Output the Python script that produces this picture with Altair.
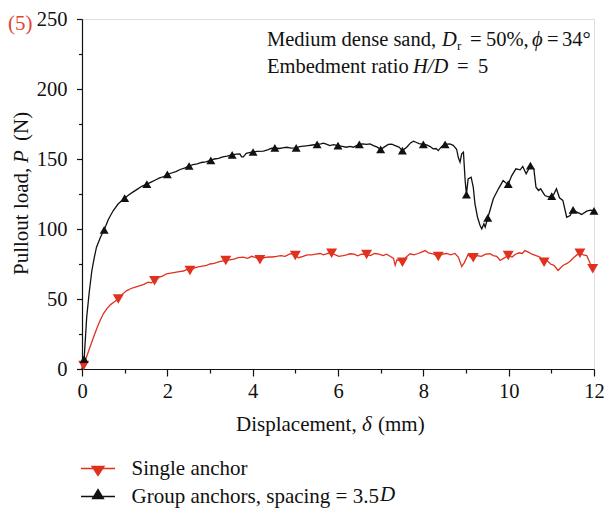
import altair as alt
import pandas as pd

# ---------------- data ----------------
single_x = [0.00, 0.04, 0.10, 0.18, 0.27, 0.36, 0.43, 0.50, 0.58, 0.67, 0.76, 0.85, 0.95, 1.05, 1.15,
            1.25, 1.36, 1.45, 1.55, 1.62, 1.70, 1.80, 1.90, 1.98, 2.08, 2.18, 2.28, 2.38, 2.45, 2.53,
            2.62, 2.72, 2.82, 2.92, 3.00, 3.10, 3.20, 3.28, 3.37, 3.46, 3.56, 3.66, 3.78, 3.88, 3.98,
            4.08, 4.17, 4.27, 4.37, 4.46, 4.56, 4.66, 4.76, 4.86, 4.94, 5.00, 5.08, 5.18, 5.28, 5.38,
            5.48, 5.58, 5.66, 5.76, 5.85, 5.94, 6.02, 6.12, 6.20, 6.28, 6.38, 6.46, 6.55, 6.67, 6.76,
            6.86, 6.96, 7.06, 7.14, 7.22, 7.30, 7.34, 7.38, 7.45, 7.51, 7.60, 7.69, 7.78, 7.88, 7.96,
            8.04, 8.12, 8.20, 8.28, 8.35, 8.45, 8.55, 8.64, 8.74, 8.82, 8.90, 8.96, 9.05, 9.10, 9.17,
            9.26, 9.36, 9.46, 9.56, 9.64, 9.72, 9.80, 9.88, 9.99, 10.08, 10.16, 10.25, 10.32, 10.38,
            10.46, 10.55, 10.64, 10.73, 10.83, 10.90, 10.98, 11.06, 11.16, 11.24, 11.30, 11.36, 11.44,
            11.52, 11.60, 11.67, 11.75, 11.83, 11.90, 11.97]
single_p = [0, 2.5, 8, 15, 22.7, 30, 35, 39.4, 43, 46, 48, 50, 53.5, 56, 57.5,
            58.5, 59.6, 60.5, 62, 61.5, 63, 65.5, 66.5, 68, 68.5, 69, 69.5, 70, 71, 70.4,
            72, 73, 73.5, 74, 75, 75.5, 76.5, 77, 77.5, 78, 78.5, 79.5, 79.9, 79, 80.5,
            79.5, 78, 79.5, 80, 80, 80.4, 81, 80.5, 82, 82.5, 81, 79.5, 80.5, 81.5, 81.5,
            82, 82.5, 81.5, 82.5, 82.7, 81.5, 80.5, 81, 81.5, 82.3, 82, 80.8, 82, 81.8, 81,
            82.5, 82, 81, 82, 80.5, 79, 74, 78, 77.5, 76.3, 80, 82.3, 81.5, 82.5, 83.5,
            84.6, 83, 82.5, 81.5, 80.4, 82, 82.5, 81.5, 82.5, 80, 73.2, 76, 81.8, 80, 79.4,
            81, 80.5, 82, 82.3, 81, 80.5, 77.5, 79, 81, 80, 82, 83, 82.5, 84.6,
            83.5, 82, 81, 80, 76.3, 77.5, 75, 74, 70.4, 73, 74.5, 75.2, 77,
            79.5, 81.5, 82.7, 81.5, 81, 76, 71.6]
single_mark_x = [0.04, 0.85, 1.70, 2.53, 3.37, 4.17, 5.00, 5.85, 6.67, 7.51, 8.35, 9.17, 9.99, 10.83, 11.67, 11.97]
single_mark_p = [2.5, 50, 63, 70.4, 77.5, 78, 81, 82.7, 81.8, 76.3, 80.4, 79.4, 81, 76.3, 82.7, 71.6]

group_x = [0.00, 0.05, 0.11, 0.17, 0.23, 0.29, 0.34, 0.43, 0.52, 0.62, 0.73, 0.85, 1.00, 1.10, 1.20,
           1.30, 1.40, 1.52, 1.62, 1.72, 1.82, 1.92, 2.00, 2.10, 2.20, 2.30, 2.40, 2.51, 2.60, 2.70,
           2.80, 2.90, 3.02, 3.10, 3.20, 3.30, 3.40, 3.52, 3.62, 3.70, 3.74, 3.78, 3.85, 3.92, 4.01,
           4.10, 4.25, 4.35, 4.43, 4.52, 4.62, 4.70, 4.80, 4.90, 5.02, 5.10, 5.20, 5.30, 5.40, 5.51,
           5.60, 5.66, 5.74, 5.81, 5.90, 6.00, 6.10, 6.20, 6.28, 6.36, 6.43, 6.50, 6.58, 6.67, 6.75,
           6.83, 6.92, 7.00, 7.08, 7.18, 7.26, 7.34, 7.43, 7.51, 7.61, 7.70, 7.77, 7.84, 7.90, 8.00,
           8.08, 8.16, 8.23, 8.30, 8.35, 8.43, 8.51, 8.62, 8.70, 8.78, 8.82, 8.86, 8.90, 8.94, 8.98,
           9.01, 9.05, 9.12, 9.17, 9.21, 9.27, 9.33, 9.37, 9.42, 9.45, 9.51, 9.56, 9.64, 9.76, 9.87,
           9.93, 9.99, 10.07, 10.17, 10.27, 10.33, 10.41, 10.51, 10.59, 10.64, 10.70, 10.75, 10.85,
           10.93, 11.01, 11.06, 11.12, 11.19, 11.27, 11.36, 11.44, 11.51, 11.60, 11.71, 11.83, 11.92, 12.00]
group_p = [0, 7, 37, 55, 70, 80, 87, 94, 99.4, 107, 113, 118, 122, 124.5, 126.5,
           128.5, 130.5, 132, 133.5, 135, 136.5, 137.5, 139, 140, 141, 142.5, 143.5, 145, 146, 146.5,
           147.5, 148, 149, 150, 150.5, 151.5, 152, 153, 153.5, 153.7, 151.5, 151.5, 154, 154.5, 155,
           155.5, 155.6, 156.5, 157.5, 158, 157.5, 158, 158.4, 157.8, 158, 158.8, 159.2, 159.6, 160, 160.4,
           160.8, 161.3, 160.5, 159.6, 160.2, 159.6, 159, 158.4, 159, 158.4, 159.5, 160.4, 160.8, 160.4, 160.8,
           159.6, 158.5, 156.8, 158.5, 160.4, 160.6, 159.6, 158.5, 156, 158.4, 161.5, 162.7, 161.8, 161, 160.4,
           160, 158.9, 157.3, 157.5, 156, 159, 160.4, 160.8, 159.8, 157, 151, 147.7, 153.7, 154.9, 134.6,
           124.6, 135.8, 137, 130, 118, 108.4, 102.5, 100.1, 103.7, 101.3, 108, 113, 121.6, 128.7, 134.6,
           133, 132, 138, 143, 142.3, 144.7, 139.4, 145.2, 143, 129.9, 127.5, 128.7, 123.9,
           123, 123.4, 125, 128.7, 122.3, 120.4, 108.4, 109.6, 113.7, 112, 110.4, 112.7, 113.5, 113]
group_mark_x = [0.05, 0.52, 1.00, 1.52, 2.00, 2.51, 3.02, 3.52, 4.01, 4.52, 5.02, 5.51, 6.00, 6.50, 7.00,
                7.51, 8.00, 8.51, 9.01, 9.51, 9.99, 10.51, 11.01, 11.51, 12.00]
group_mark_p = [7, 99.4, 122, 132, 139, 145, 149, 153, 155, 158, 158, 160.4, 159.6, 160.4, 156.8,
                156, 160.4, 160.4, 124.6, 108, 132, 145.2, 123.4, 113.7, 113]

series_names = ["Single anchor", "Group anchors, spacing = 3.5D"]
x_major = [0, 2, 4, 6, 8, 10, 12]
x_minor = [1, 3, 5, 7, 9, 11]
y_major = [0, 50, 100, 150, 200, 250]
y_minor = [25, 75, 125, 175, 225]

# ---------------- styling ----------------
RED = "#e2301f"
INK = "#111111"
FONT = "Liberation Serif"
LEFT, TOP = 82, 19
W, H = 512, 350

single_line = pd.DataFrame({"x": single_x, "p": single_p})
group_line = pd.DataFrame({"x": group_x, "p": group_p})
single_marks = pd.DataFrame({"x": single_mark_x, "p": single_mark_p, "series": series_names[0]})
group_marks = pd.DataFrame({"x": group_mark_x, "p": group_mark_p, "series": series_names[1]})
all_marks = pd.concat([single_marks, group_marks], ignore_index=True)

xs = alt.Scale(domain=[0, 12], nice=False, zero=False)
ys = alt.Scale(domain=[0, 250], nice=False)

common = dict(grid=False, domainColor=INK, tickColor=INK, labelColor=INK, labelFont=FONT,
              labelFontSize=20.5, domainWidth=1.2, tickWidth=1.2, title=None)
x_main = alt.Axis(orient="bottom", values=x_major, tickSize=7, labelPadding=5, labelFlush=False,
                  format="d", **common)
y_main = alt.Axis(orient="left", values=y_major, tickSize=5.5, labelPadding=9.5, format="d", **common)
x_min = alt.Axis(orient="bottom", values=x_minor, tickSize=4, labels=False, domain=False, grid=False,
                 tickColor=INK, tickWidth=1.2, title=None)
y_min = alt.Axis(orient="left", values=y_minor, tickSize=3.5, labels=False, domain=False, grid=False,
                 tickColor=INK, tickWidth=1.2, title=None)

red_line = alt.Chart(single_line).mark_line(color=RED, strokeWidth=1.3).encode(
    x=alt.X("x:Q", scale=xs, axis=x_main), y=alt.Y("p:Q", scale=ys, axis=y_main))
black_line = alt.Chart(group_line).mark_line(color=INK, strokeWidth=1.3).encode(
    x=alt.X("x:Q", scale=xs, axis=None), y=alt.Y("p:Q", scale=ys, axis=None))
red_pts = alt.Chart(single_marks).mark_point(shape="triangle-down", filled=True, size=120, color=RED,
                                             opacity=1).encode(
    x=alt.X("x:Q", scale=xs, axis=None), y=alt.Y("p:Q", scale=ys, axis=None))
black_pts = alt.Chart(group_marks).mark_point(shape="triangle-up", filled=True, size=80, color=INK,
                                              opacity=1).encode(
    x=alt.X("x:Q", scale=xs, axis=None), y=alt.Y("p:Q", scale=ys, axis=None))

path_down = "M-3.4,0H3.4M-1.2,-0.4H1.2L0,1.4Z"
path_up = "M-3.4,0H3.4M-1.1,0.4H1.1L0,-1.4Z"
color_scale = alt.Scale(domain=series_names, range=[RED, INK])
shape_scale = alt.Scale(domain=series_names, range=[path_down, path_up])
leg = alt.Legend(orient="none", legendX=5.5, legendY=439, title=None, labelFont=FONT,
                 labelFontSize=21, labelColor=INK, symbolSize=100, symbolStrokeWidth=1.3,
                 symbolOpacity=1, labelOffset=23, rowPadding=6, padding=0, labelLimit=0,
                 direction="vertical",
                 labelExpr="datum.label == 'Group anchors, spacing = 3.5D' ? 'Group anchors, spacing = 3.5' : datum.label")
legend_layer = alt.Chart(all_marks).mark_point(filled=True, opacity=0, size=100).encode(
    x=alt.X("x:Q", scale=xs, axis=x_min),
    y=alt.Y("p:Q", scale=ys, axis=y_min),
    fill=alt.Fill("series:N", scale=color_scale, legend=leg),
    stroke=alt.Stroke("series:N", scale=color_scale, legend=leg),
    shape=alt.Shape("series:N", scale=shape_scale, legend=leg),
)


def label(text, px, py, size=20.5, italic=False, color=INK, angle=None, baseline="alphabetic"):
    kw = dict(text=text, font=FONT, fontSize=size, color=color, align="left", baseline=baseline)
    if italic:
        kw["fontStyle"] = "italic"
    if angle is not None:
        kw["angle"] = angle
    return alt.Chart(pd.DataFrame({"k": [0]})).mark_text(**kw).encode(
        x=alt.value(px - LEFT), y=alt.value(py - TOP))


texts = [
    label("(5)", 8, 30, size=21, color="#e5432f"),
    # annotation line 1
    label("Medium dense sand,", 267, 46),
    label("D", 442, 46, italic=True),
    label("r", 457, 50, size=13),
    label("=", 470, 46),
    label("50%,", 486, 46),
    label("ϕ", 532, 46, italic=True),
    label("=", 547, 46),
    label("34°", 562, 46),
    # annotation line 2
    label("Embedment ratio", 267, 73),
    label("H/D", 413, 73, italic=True),
    label("=", 457, 73),
    label("5", 478, 73),
    # x title
    label("Displacement,", 236, 431, size=21),
    label("δ", 362, 431, size=21, italic=True),
    label("(mm)", 378, 431, size=21),
    # y title (rotated)
    label("Pullout load,", 28, 275, size=21, angle=270),
    label("P", 28, 163, size=21, italic=True, angle=270),
    label("(N)", 28, 141, size=21, angle=270),
    # italic D of legend label
    label("D", 380, 495, size=21, italic=True, baseline="middle"),
]

chart = alt.layer(red_line, black_line, red_pts, black_pts, legend_layer, *texts).resolve_axis(
    x="independent", y="independent"
).properties(
    width=W, height=H,
    padding={"left": LEFT, "top": TOP, "right": 604 - LEFT - W, "bottom": 509 - TOP - H},
    autosize=alt.AutoSizeParams(type="none"),
).configure_view(stroke=None).configure(background="white")

chart.save("out.html", embed_options={"renderer": "svg", "actions": False})
